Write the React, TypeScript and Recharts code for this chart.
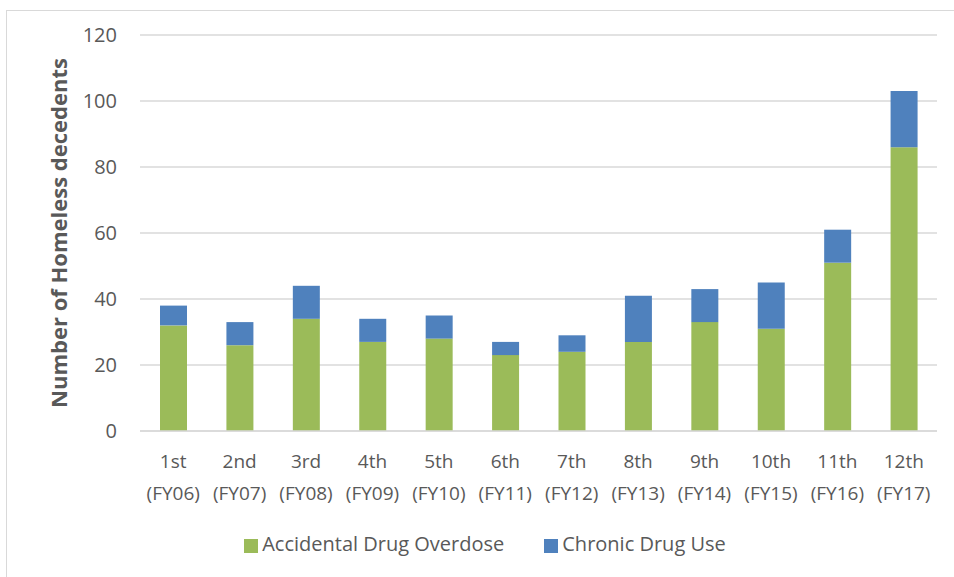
import { BarChart, Bar, XAxis, YAxis, CartesianGrid, Legend } from "recharts";

const ordinals = ["1st", "2nd", "3rd", "4th", "5th", "6th", "7th", "8th", "9th", "10th", "11th", "12th"];
const fiscalYears = ["FY06", "FY07", "FY08", "FY09", "FY10", "FY11", "FY12", "FY13", "FY14", "FY15", "FY16", "FY17"];
const accidentalOverdose = [32, 26, 34, 27, 28, 23, 24, 27, 33, 31, 51, 86];
const chronicUse = [6, 7, 10, 7, 7, 4, 5, 14, 10, 14, 10, 17];
const yTicks = [0, 20, 40, 60, 80, 100, 120];

const data = ordinals.map((ord, i) => ({
  name: `${ord} (${fiscalYears[i]})`,
  ord,
  fy: fiscalYears[i],
  accidental: accidentalOverdose[i],
  chronic: chronicUse[i],
}));

const FONT = "'Open Sans', sans-serif";
const TEXT = "#595959";

const CategoryTick = ({ x, y, payload, index }: any) => {
  const row = data[index] ?? data.find((d) => d.name === payload.value);
  return (
    <text x={x} y={y} textAnchor="middle" fill={TEXT} fontSize={19} fontFamily={FONT}>
      <tspan x={x} dy={29}>{row.ord}</tspan>
      <tspan x={x} dy={32}>({row.fy})</tspan>
    </text>
  );
};

const YLabel = ({ viewBox }: any) => {
  const cx = viewBox.x + 58;
  const cy = viewBox.y + viewBox.height / 2;
  return (
    <text
      x={cx}
      y={cy}
      transform={`rotate(-90 ${cx} ${cy})`}
      textAnchor="middle"
      dominantBaseline="central"
      fill={TEXT}
      fontSize={22}
      fontWeight="bold"
      fontFamily={FONT}
    >
      Number of Homeless decedents
    </text>
  );
};

export default function App() {
  return (
    <div style={{ position: "absolute", left: 0, top: 0, width: 954, height: 577, background: "#fff", overflow: "hidden" }}>
      <div
        style={{
          position: "absolute",
          left: 6,
          top: 10,
          width: 970,
          height: 600,
          border: "1px solid #d9d9d9",
        }}
      />
      <BarChart
        width={954}
        height={577}
        data={data}
        margin={{ top: 35, right: 17, left: 0, bottom: 14 }}
        barSize={27}
        style={{ position: "absolute", left: 0, top: 0 }}
      >
        <CartesianGrid vertical={false} stroke="#d9d9d9" strokeWidth={1.3} />
        <XAxis
          dataKey="name"
          tick={<CategoryTick />}
          tickLine={false}
          axisLine={{ stroke: "#d9d9d9", strokeWidth: 1.3 }}
          interval={0}
          height={105}
        />
        <YAxis
          width={140}
          domain={[0, 120]}
          ticks={yTicks}
          tickLine={false}
          axisLine={false}
          tickMargin={17}
          tick={{ fill: TEXT, fontSize: 20, fontFamily: FONT }}
          label={<YLabel />}
        />
        <Legend
          verticalAlign="bottom"
          iconType="square"
          iconSize={14}
          wrapperStyle={{ left: 40, width: 930, bottom: 20, fontFamily: FONT, fontSize: 20 }}
          formatter={(value: string) => <span style={{ color: TEXT, marginRight: 30 }}>{value}</span>}
        />
        <Bar dataKey="accidental" name="Accidental Drug Overdose" stackId="a" fill="#9BBB59" isAnimationActive={false} />
        <Bar dataKey="chronic" name="Chronic Drug Use" stackId="a" fill="#4F81BD" isAnimationActive={false} />
      </BarChart>
    </div>
  );
}
